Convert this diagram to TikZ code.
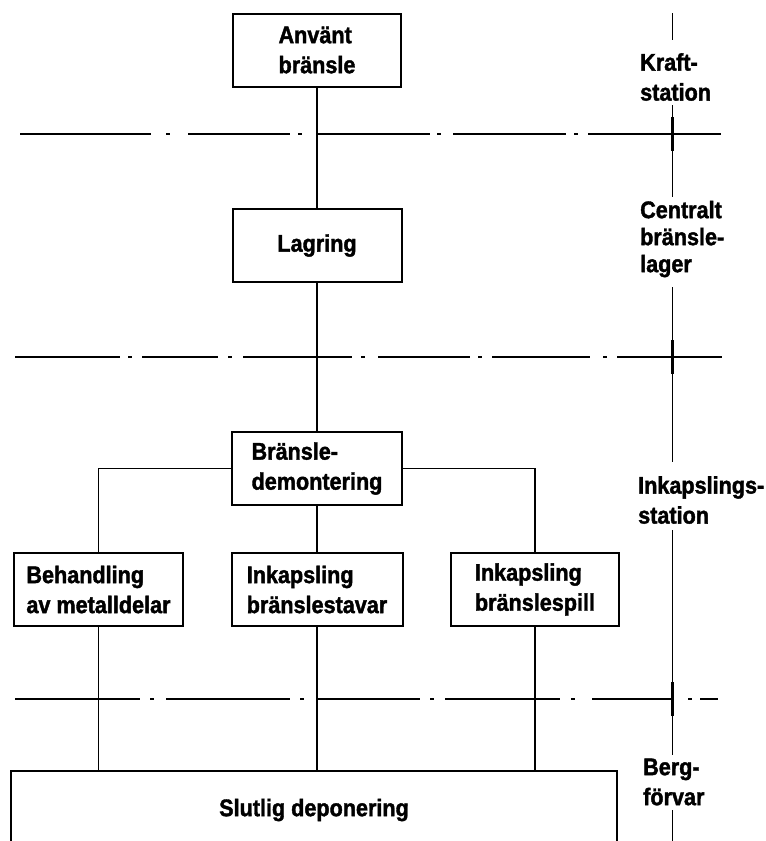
\documentclass[tikz,border=0pt]{standalone}
\usepackage{fontspec}
\setmainfont{Liberation Sans}[BoldFeatures={FakeStretch=0.9,FakeBold=1.6}]
\begin{document}
\begin{tikzpicture}[x=1pt,y=-1pt,
  txt/.style={font=\bfseries\fontsize{24}{30}\selectfont},
  box/.style={txt,draw,line width=2pt,minimum width=#1,minimum height=73pt,inner sep=0pt,align=left},
  box/.default=169pt,
  conn/.style={line width=1.5pt},
  lab/.style={anchor=west,align=left,inner sep=0pt,font=\bfseries\fontsize{24}{30}\selectfont},
  dd/.style={line width=2.2pt},
  rule/.style={line width=1pt},
  tickmark/.style={line width=3pt}]
\useasboundingbox (0,0) rectangle (766,841);

% boxes
\node[box=168pt] (A) at (317,50) {Använt\\bränsle};
\node[box] (L) at (317,245.5) {Lagring};
\node[box=170pt] (D) at (317,468.5) {Bränsle-\\demontering};
\node[box] (BM) at (98.5,589.5) {Behandling\\av metalldelar};
\node[box=171pt] (IB) at (317,589.5) {Inkapsling\\bränslestavar};
\node[box=168pt] (IS) at (535,589.5) {Inkapsling\\bränslespill};
\node[box=606pt,minimum height=78pt] (S) at (314,810) {Slutlig deponering};

% connectors
\draw[conn] (A) -- (L);
\draw[conn] (L) -- (D);
\draw[conn] (D) -- (IB);
\draw[conn] (D.west) -| (BM.north);
\draw[conn] (D.east) -| (IS.north);
\draw[conn] (BM.south) -- (BM.south |- S.north);
\draw[conn] (IB.south) -- (IB.south |- S.north);
\draw[conn] (IS.south) -- (IS.south |- S.north);

% zone labels
\node[lab] (K) at (640,77) {Kraft-\\station};
\node[lab,font=\bfseries\fontsize{24}{27}\selectfont] (C) at (640,239) {Centralt\\bränsle-\\lager};
\node[lab] (I) at (638,500) {Inkapslings-\\station};
\node[lab] (B) at (643,782) {Berg-\\förvar};

% right rule
\coordinate (r0) at (672,13);   \coordinate (r1) at (672,40);
\coordinate (r2) at (672,105);  \coordinate (r3) at (672,197);
\coordinate (r4) at (672,287);  \coordinate (r5) at (672,462);
\coordinate (r6) at (672,530);  \coordinate (r7) at (672,755);
\coordinate (r8) at (672,810);  \coordinate (r9) at (672,845);
\draw[rule] (r0) -- (r1);
\draw[rule] (r2) -- (r3);
\draw[rule] (r4) -- (r5);
\draw[rule] (r6) -- (r7);
\draw[rule] (r8) -- (r9);

% dash-dot boundaries
\coordinate (h1a) at (20,134);  \coordinate (h1b) at (721,134);
\coordinate (h2a) at (15,357);  \coordinate (h2b) at (722,357);
\coordinate (h3a) at (15,699);  \coordinate (h3b) at (718,699);
\draw[dd,dash pattern=on 131pt off 15pt on 4pt off 18pt on 102pt off 8pt on 4pt off 15pt on 113pt off 7pt on 4pt off 12pt on 113pt off 8pt on 4pt off 10pt on 140pt off 10pt] (h1a) -- (h1b);
\draw[dd,dash pattern=on 105pt off 8pt on 4pt off 10pt on 76pt off 10pt on 4pt off 11pt on 109pt off 9pt on 4pt off 13pt on 92pt off 8pt on 4pt off 10pt on 98pt off 13pt on 4pt off 10pt on 110pt off 10pt] (h2a) -- (h2b);
\draw[dd,dash pattern=on 125pt off 10pt on 4pt off 12pt on 124pt off 10pt on 4pt off 12pt on 104pt off 10pt on 4pt off 11pt on 115pt off 11pt on 4pt off 17pt on 80pt off 16pt on 4pt off 8pt on 30pt off 10pt] (h3a) -- (h3b);

% tick marks at crossings
\coordinate (t1a) at (672,117); \coordinate (t1b) at (672,151);
\coordinate (t2a) at (672,340); \coordinate (t2b) at (672,374);
\coordinate (t3a) at (672,682); \coordinate (t3b) at (672,716);
\draw[tickmark] (t1a) -- (t1b);
\draw[tickmark] (t2a) -- (t2b);
\draw[tickmark] (t3a) -- (t3b);
\end{tikzpicture}
\end{document}
